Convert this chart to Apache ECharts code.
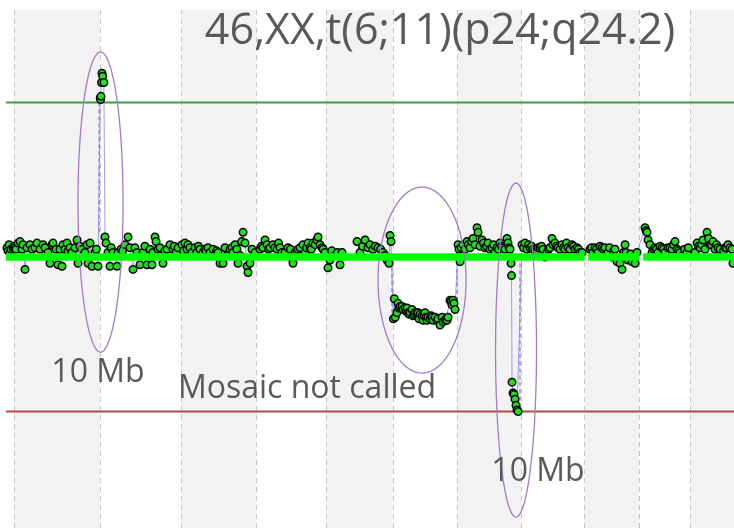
<!DOCTYPE html>
<html><head><meta charset="utf-8">
<script src="https://cdn.jsdelivr.net/npm/echarts@6/dist/echarts.min.js"></script>
<style>html,body{margin:0;padding:0;background:#fff}#c{width:734px;height:528px}</style>
</head><body><div id="c"></div>
<script>
// ---- chromosomes (hg19 lengths, Mb); genome coordinate 0 = start of chr5 ----
const chromNames   = ['4','5','6','7','8','9','10','11','12','13','14','15'];
const chromLengths = [191.2, 180.9, 171.1, 159.1, 146.4, 141.2, 135.5, 135.0, 133.9, 115.2, 107.3, 102.5];
const firstChromStart = -191.2;
const acrocentric = ['13','14'];
const viewStartMb = -16.9, viewEndMb = 1518.4;

// ---- copy-number levels ----
const baselineCN = 2, gainCN = 3, lossCN = 1;

// ---- probes: [genome position Mb, copy number] ----
const chr4_5Probes = [[-14.8,2.06],[-12.6,2.04],[-10.5,2.08],[-8.4,2.03],[-6.3,2.05],[-2.1,2.06],[0.0,2.07],[2.1,2.06],[4.2,2.05],[8.4,2.09],[12.7,2.10],[16.9,2.05],[19.0,2.08],[23.2,1.92],[27.4,2.06],[33.7,2.08],[38.0,2.05],[44.3,2.06],[48.5,2.09],[54.8,2.05],[61.2,2.08],[65.4,2.06],[71.7,2.03],[75.9,1.96],[80.1,2.08],[82.3,2.09],[88.6,2.05],[92.8,1.95],[97.0,2.05],[101.2,1.94],[103.3,2.08],[107.6,2.05],[111.8,2.09],[114.0,2.04],[118.1,2.06],[122.3,2.03],[128.6,2.06],[132.9,2.11],[135.0,1.96],[139.0,2.07],[143.4,2.05],[149.7,2.03],[154.0,2.08],[156.1,1.96],[160.3,2.09],[164.5,1.94],[170.8,2.03],[173.5,2.05],[177.2,1.94]];
const chr6Probes = [[181.8,3.03],[182.6,3.02],[183.4,3.04],[184.5,3.13],[185.6,3.19],[187.0,3.17],[189.5,3.13],[191.9,2.13],[194.0,2.09],[198.2,2.03],[202.5,1.94],[205.0,2.06],[208.8,2.03],[217.2,1.94],[219.3,2.03],[225.7,2.05],[229.0,2.04],[234.1,2.08],[240.4,2.13],[244.6,2.06],[251.0,1.92],[255.0,2.06],[259.4,2.03],[265.7,1.95],[272.1,2.03],[276.0,2.07],[280.5,1.95],[286.8,2.05],[291.0,1.95],[293.2,2.03],[297.4,2.13],[299.5,2.10],[303.7,2.05],[307.9,2.06],[314.2,1.96],[318.0,2.04],[322.7,2.05],[329.0,2.08],[335.3,2.05],[338.0,2.07],[341.7,2.03],[345.9,2.06]];
const chr7Probes = [[354.3,2.08],[357.5,2.04],[360.6,2.09],[364.9,2.05],[367.0,2.08],[371.0,2.06],[375.4,2.03],[381.7,2.06],[385.9,2.03],[389.0,2.07],[392.3,2.05],[398.6,2.03],[402.8,2.05],[405.0,2.04],[409.1,2.06],[413.4,2.03],[419.7,2.05],[423.9,2.01],[427.0,2.04],[430.2,2.03],[434.5,1.96],[440.8,1.96],[445.0,2.06],[449.2,2.01],[455.6,2.05],[459.8,2.06],[461.9,2.03],[466.1,2.08],[470.0,2.05],[472.4,1.96],[476.6,2.01],[480.0,2.10],[483.0,2.16],[487.2,2.09],[491.4,1.94],[493.5,1.90],[497.7,1.96],[502.0,2.05],[508.3,2.03]];
const chr8Probes = [[518.8,2.05],[522.0,2.07],[525.1,2.06],[529.4,2.11],[533.6,2.08],[536.7,2.05],[539.9,2.06],[546.2,2.08],[550.0,2.06],[554.7,2.05],[558.0,2.09],[561.0,2.06],[565.2,2.03],[571.5,2.03],[577.9,2.06],[583.0,2.05],[586.3,1.99],[588.4,1.96],[592.6,2.03],[596.0,2.04],[599.0,2.05],[603.2,2.06],[609.5,2.08],[613.7,2.03],[616.9,2.06],[620.1,2.09],[624.3,2.06],[627.0,2.05],[630.6,2.09],[635.0,2.08],[639.0,2.11],[641.1,2.13],[645.4,2.08],[649.6,2.06],[652.0,2.05],[655.9,2.03]];
const chr9Probes = [[662.2,1.93],[666.4,1.98],[670.0,2.04],[677.0,2.01],[682.0,2.03],[687.5,1.95],[691.8,2.03],[723.4,2.10],[729.7,2.03],[735.0,2.07],[740.3,2.11],[746.6,2.06],[750.8,2.08],[757.1,2.05],[762.0,2.07],[767.7,2.06],[773.0,2.05],[778.2,2.03],[782.4,2.01],[786.6,1.98],[790.9,1.96],[793.0,2.14],[795.1,2.10]];
const chr10Probes = [[800.0,1.60],[802.0,1.73],[804.0,1.61],[807.7,1.64],[809.9,1.70],[811.9,1.67],[814.1,1.68],[818.3,1.68],[820.4,1.66],[824.6,1.67],[826.7,1.65],[828.8,1.67],[830.9,1.64],[833.0,1.63],[835.2,1.64],[839.4,1.66],[841.5,1.62],[843.6,1.63],[845.7,1.64],[849.9,1.64],[852.0,1.64],[854.2,1.60],[856.3,1.63],[860.5,1.62],[862.6,1.59],[864.7,1.62],[866.8,1.64],[868.9,1.61],[871.0,1.59],[873.1,1.61],[877.4,1.60],[879.5,1.62],[881.6,1.61],[883.7,1.59],[887.9,1.61],[892.1,1.59],[894.2,1.60],[898.4,1.56],[902.7,1.61],[904.8,1.58],[909.0,1.59],[911.1,1.60],[913.2,1.59],[915.3,1.61],[919.5,1.72],[921.6,1.71],[923.7,1.69],[925.9,1.72],[928.0,1.70],[930.1,1.66]];
const chr11Probes = [[936.4,2.08],[938.5,2.05],[940.7,1.97],[943.0,2.06],[946.9,2.08],[951.2,2.05],[955.4,2.10],[958.0,2.08],[961.7,2.06],[964.9,2.10],[968.0,2.12],[972.2,2.08],[976.5,2.19],[978.6,2.16],[982.8,2.07],[987.0,2.11],[990.0,2.09],[993.3,2.06],[996.5,2.07],[999.7,2.09],[1003.9,2.05],[1008.1,2.06],[1011.2,2.08],[1014.4,2.03],[1018.6,2.06],[1021.8,2.05],[1025.0,2.09],[1028.1,2.07],[1031.3,2.06],[1035.5,2.05],[1039.7,2.12],[1041.8,2.09],[1044.0,2.06],[1046.0,2.05],[1048.2,1.96],[1049.2,1.88],[1050.3,1.19],[1052.4,1.12],[1054.5,1.11],[1056.6,1.08],[1058.7,1.04],[1060.8,1.01],[1063.0,1.00]];
const chr12Probes = [[1071.4,2.08],[1074.6,2.06],[1077.7,2.09],[1082.0,2.05],[1085.1,2.08],[1088.3,2.06],[1091.5,2.07],[1094.6,2.05],[1098.8,2.05],[1101.9,2.04],[1105.1,2.06],[1109.3,2.06],[1112.5,2.07],[1115.7,2.05],[1119.9,2.00],[1124.1,2.03],[1127.2,2.05],[1130.4,2.06],[1134.6,2.12],[1136.8,2.08],[1141.0,2.09],[1144.2,2.07],[1147.3,2.06],[1151.5,2.05],[1155.7,2.08],[1158.9,2.06],[1162.0,2.05],[1165.2,2.09],[1168.4,2.06],[1172.6,2.05],[1176.8,2.08],[1180.0,2.07],[1183.1,2.05],[1187.4,2.06],[1190.6,2.05],[1193.7,2.03],[1197.9,2.03]];
const chr13Probes = [[1214.8,2.05],[1218.0,2.06],[1221.1,2.03],[1225.3,2.06],[1228.5,2.05],[1231.7,2.03],[1236.0,2.07],[1240.1,2.06],[1243.3,2.05],[1246.4,2.06],[1252.7,2.03],[1256.0,2.06],[1261.2,2.00],[1264.4,2.04],[1267.5,2.05],[1271.7,1.97],[1278.0,1.96],[1282.3,1.92],[1285.4,2.03],[1288.6,2.08],[1290.7,2.03],[1294.9,1.98],[1300.2,2.02],[1303.4,1.97],[1309.7,1.96],[1313.9,2.03]];
const chr14Probes = [[1330.8,2.19],[1333.0,2.17],[1335.0,2.16],[1337.1,2.11],[1341.3,2.08],[1345.5,2.03],[1348.7,2.05],[1351.9,2.06],[1355.0,2.05],[1358.2,2.03],[1362.4,2.07],[1366.6,2.06],[1369.8,2.05],[1372.9,2.03],[1379.3,2.06],[1383.5,2.06],[1387.7,2.05],[1390.9,2.08],[1394.0,2.10],[1398.3,2.05],[1401.4,2.04],[1404.6,2.03],[1410.9,2.01],[1414.1,2.05],[1419.4,2.03],[1422.0,2.06]];
const chr15Probes = [[1436.3,2.03],[1440.5,2.09],[1443.7,2.07],[1446.8,2.06],[1449.9,2.08],[1453.1,2.11],[1457.3,2.05],[1461.5,2.16],[1464.7,2.12],[1467.9,2.08],[1471.0,2.08],[1474.2,2.10],[1478.4,2.05],[1481.5,2.08],[1484.7,2.06],[1489.0,2.05],[1493.2,2.01],[1496.3,2.04],[1499.5,2.06],[1502.6,2.06],[1505.8,2.08],[1510.0,2.06],[1514.2,2.05],[1516.3,1.96]];

// ---- segment breakpoints: [position Mb, from CN, to CN] ----
const segmentBreaks = [[179.5, 2.16, 3.00], [797.2, 1.98, 1.60], [934.3, 1.97, 1.71], [1067.0, 1.96, 1.00]];

// ---- highlighted regions: [centre Mb, centre CN, half-width Mb, half-height CN] ----
const highlightRegions = [[182.4, 2.356, 47.5, 0.971], [860.5, 1.851, 92.8, 0.602], [1058.7, 1.398, 43.2, 1.081]];

// ---- texts ----
const titleText = '46,XX,t(6;11)(p24;q24.2)';
const noteTexts = ['10 Mb', 'Mosaic not called', '10 Mb'];

// ================= build =================
const allProbes = [].concat(chr4_5Probes, chr6Probes, chr7Probes, chr8Probes, chr9Probes, chr10Probes, chr11Probes, chr12Probes, chr13Probes, chr14Probes, chr15Probes).sort((a, b) => a[0] - b[0]);
const chromStarts = [];
let acc = firstChromStart;
chromLengths.forEach(l => { chromStarts.push(acc); acc += l; });
const chromData = chromNames.map((n, i) => [chromStarts[i], chromStarts[i] + chromLengths[i], i, baselineCN]);

// baseline segments
const baselineData = [];
chromNames.forEach((n, i) => {
  let s = chromStarts[i];
  const e = chromStarts[i] + chromLengths[i];
  if (acrocentric.includes(n)) {
    const inChrom = allProbes.filter(p => p[0] >= s && p[0] < e);
    s = Math.min.apply(null, inChrom.map(p => p[0])) - 4;
  }
  baselineData.push([Math.max(s, viewStartMb), baselineCN], [Math.min(e, viewEndMb), baselineCN], null);
});

// connector line (breaks over large probe gaps)
const connectorData = [];
allProbes.forEach((p, i) => {
  if (i > 0 && p[0] - allProbes[i - 1][0] > 25) connectorData.push(null);
  connectorData.push(p);
});

const chart = echarts.init(document.getElementById('c'), null, {renderer: 'canvas'});
const FONT = '"Open Sans", "Noto Sans", sans-serif';
function txt(x, y, s, size) {
  return {type: 'text', z: 100, x: x, y: y, style: {text: s, fill: '#595959', fontFamily: FONT, fontSize: size, textAlign: 'center', textVerticalAlign: 'middle', align: 'center', verticalAlign: 'middle'}};
}

chart.setOption({
  animation: false,
  backgroundColor: '#ffffff',
  grid: {left: 6, right: 0, top: 10, bottom: 0},
  xAxis: {type: 'value', min: viewStartMb, max: viewEndMb, show: false},
  yAxis: {type: 'value', min: 0.246, max: 3.599, show: false},
  series: [
    {
      type: 'custom', name: 'bands', z: 0, clip: true, silent: true,
      data: chromData, encode: {x: [0, 1], y: 3},
      renderItem: function (params, api) {
        const cs = params.coordSys;
        const s = api.coord([api.value(0), baselineCN])[0];
        const e = api.coord([api.value(1), baselineCN])[0];
        const idx = api.value(2);
        const children = [];
        if (idx % 2 === 1) children.push({type: 'rect', shape: {x: s, y: cs.y, width: e - s, height: cs.height}, style: {fill: '#f2f2f2'}});
        if (idx > 0) {
          const xx = Math.round(s) + 0.5;
          children.push({type: 'line', shape: {x1: xx, y1: cs.y, x2: xx, y2: cs.y + cs.height}, style: {stroke: '#c6c6c6', lineWidth: 1, lineDash: [5, 4]}});
        }
        return {type: 'group', children: children};
      }
    },
    {type: 'line', name: 'gain', z: 2, silent: true, symbol: 'none', data: [[viewStartMb, gainCN], [viewEndMb, gainCN]], lineStyle: {color: '#3f9b3f', width: 2}},
    {type: 'line', name: 'loss', z: 2, silent: true, symbol: 'none', data: [[viewStartMb, lossCN], [viewEndMb, lossCN]], lineStyle: {color: '#b24848', width: 2.2}},
    {type: 'line', name: 'connector', z: 3, silent: true, symbol: 'none', connectNulls: false, data: connectorData, lineStyle: {color: '#7f7ff0', width: 1, opacity: 0.75}},
    {
      type: 'custom', name: 'breaks', z: 3, silent: true, data: segmentBreaks, encode: {x: 0, y: [1, 2]},
      renderItem: function (params, api) {
        const a = api.coord([api.value(0), api.value(1)]);
        const b = api.coord([api.value(0), api.value(2)]);
        return {type: 'line', shape: {x1: a[0], y1: a[1], x2: b[0], y2: b[1]}, style: {stroke: '#7676ea', lineWidth: 1.2, lineDash: [4, 3]}};
      }
    },
    {type: 'scatter', name: 'probes', z: 4, silent: true, data: allProbes, symbol: 'circle', symbolSize: 7.5, itemStyle: {color: '#22dd22', borderColor: '#050505', borderWidth: 1.5, opacity: 1}},
    {type: 'line', name: 'baseline', z: 5, silent: true, symbol: 'none', connectNulls: false, data: baselineData, lineStyle: {color: '#00ff00', width: 7.5}},
    {
      type: 'custom', name: 'highlights', z: 6, silent: true, clip: false, data: highlightRegions, encode: {x: 0, y: 1},
      renderItem: function (params, api) {
        const c = api.coord([api.value(0), api.value(1)]);
        const sz = api.size([api.value(2), api.value(3)]);
        const pts = [];
        for (let k = 0; k < 120; k++) {
          const t = k / 120 * Math.PI * 2;
          pts.push([c[0] + sz[0] * Math.cos(t), c[1] + sz[1] * Math.sin(t)]);
        }
        return {type: 'polygon', shape: {points: pts}, style: {fill: 'none', stroke: '#a37bc9', lineWidth: 1.3}};
      }
    }
  ],
  graphic: [
    txt(440, 32, titleText, 43),
    txt(98, 373, noteTexts[0], 32),
    txt(307, 389, noteTexts[1], 32),
    txt(538, 472, noteTexts[2], 32)
  ]
});
</script>
</body></html>
